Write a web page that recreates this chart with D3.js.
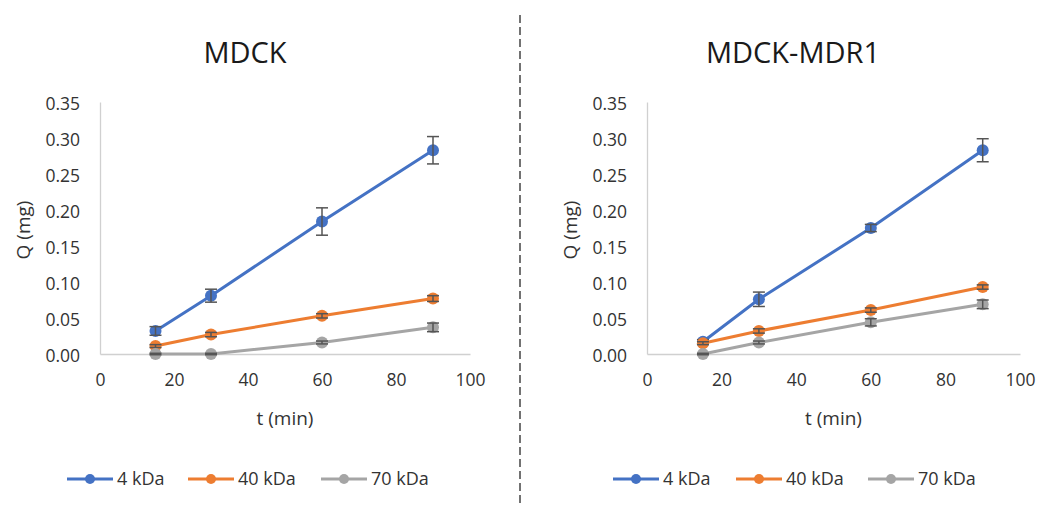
<!DOCTYPE html>
<html>
<head>
<meta charset="utf-8">
<script src="https://cdn.jsdelivr.net/npm/d3@7"></script>
<style>
  body { margin: 0; background: #fff; }
  svg text { font-family: "Open Sans", sans-serif; }
</style>
</head>
<body>
<script>
// time points (min)
const times = [15, 30, 60, 90];
const seriesNames = ['4 kDa', '40 kDa', '70 kDa'];
const seriesColors = ['#4472C4', '#ED7D31', '#A5A5A5'];

// MDCK, Q (mg) and error
const mdck4 = [0.032, 0.081, 0.184, 0.283];
const mdck4Err = [0.006, 0.009, 0.019, 0.019];
const mdck40 = [0.011, 0.027, 0.053, 0.077];
const mdck40Err = [0.002, 0.003, 0.003, 0.004];
const mdck70 = [0.000, 0.000, 0.016, 0.037];
const mdck70Err = [0.001, 0.001, 0.002, 0.006];

// MDCK-MDR1
const mdr4 = [0.017, 0.076, 0.175, 0.283];
const mdr4Err = [0.003, 0.010, 0.005, 0.016];
const mdr40 = [0.015, 0.032, 0.061, 0.093];
const mdr40Err = [0.002, 0.003, 0.003, 0.003];
const mdr70 = [0.000, 0.016, 0.044, 0.069];
const mdr70Err = [0.001, 0.002, 0.005, 0.006];

const xTicks = [0, 20, 40, 60, 80, 100];
const yTicks = [0, 0.05, 0.10, 0.15, 0.20, 0.25, 0.30, 0.35];

const W = 1037, H = 508;
const svg = d3.select('body').append('svg')
    .attr('width', W)
    .attr('height', H);

function toSeries(vals, errs) {
    return times.map((t, i) => ({ t: t, q: vals[i], e: errs[i] }));
}

const panels = [
    {
        title: 'MDCK', titleX: 245, x0: 100, x1: 470,
        legendX: [67, 188, 321],
        series: [toSeries(mdck4, mdck4Err), toSeries(mdck40, mdck40Err), toSeries(mdck70, mdck70Err)]
    },
    {
        title: 'MDCK-MDR1', titleX: 793, x0: 647, x1: 1020,
        legendX: [613, 736, 868],
        series: [toSeries(mdr4, mdr4Err), toSeries(mdr40, mdr40Err), toSeries(mdr70, mdr70Err)]
    }
];

const yTop = 102, yBottom = 354;
const textColor = '#333';

panels.forEach(p => {
    const g = svg.append('g');

    const x = d3.scaleLinear().domain([0, 100]).range([p.x0, p.x1]);
    const y = d3.scaleLinear().domain([0, 0.35]).range([yBottom, yTop]);

    //title
    g.append('text')
        .attr('x', p.titleX)
        .attr('y', 63)
        .attr('text-anchor', 'middle')
        .style('font-size', '29px')
        .style('fill', '#1a1a1a')
        .text(p.title);

    //axes
    const yAxis = g.append('g')
        .attr('transform', `translate(${p.x0},0)`)
        .call(d3.axisLeft(y).tickValues(yTicks).tickFormat(d3.format('.2f')).tickSize(0).tickPadding(20));
    const xAxis = g.append('g')
        .attr('transform', `translate(0,${yBottom})`)
        .call(d3.axisBottom(x).tickValues(xTicks).tickSize(0).tickPadding(20));

    [yAxis, xAxis].forEach(a => {
        a.select('.domain').attr('stroke', '#d0d0d0').attr('stroke-width', 1.3);
        a.selectAll('text')
            .style('font-size', '17.5px')
            .style('fill', textColor)
            .style('font-family', '"Open Sans", sans-serif');
    });
    yAxis.selectAll('text').attr('dy', '0.45em');

    //axis labels
    g.append('text')
        .attr('transform', `translate(${p.x0 - 77},230) rotate(-90)`)
        .attr('text-anchor', 'middle')
        .attr('dy', '0.35em')
        .style('font-size', '19px')
        .style('fill', textColor)
        .text('Q (mg)');
    g.append('text')
        .attr('x', (p.x0 + p.x1) / 2)
        .attr('y', 418)
        .attr('text-anchor', 'middle')
        .attr('dy', '0.35em')
        .style('font-size', '19px')
        .style('fill', textColor)
        .text('t (min)');

    const line = d3.line().x(d => x(d.t)).y(d => y(d.q));

    p.series.forEach((s, i) => {
        const sg = g.append('g');
        sg.append('path')
            .datum(s)
            .attr('d', line)
            .attr('fill', 'none')
            .attr('stroke', seriesColors[i])
            .attr('stroke-width', 3);
        sg.selectAll('circle')
            .data(s)
            .enter()
                .append('circle')
                .attr('cx', d => x(d.t))
                .attr('cy', d => y(d.q))
                .attr('r', 6)
                .attr('fill', seriesColors[i]);

        //error bars
        const eb = sg.selectAll('g.err')
            .data(s)
            .enter()
                .append('g')
                .attr('class', 'err')
                .attr('stroke', '#555')
                .attr('stroke-width', 1.5);
        eb.append('line')
            .attr('x1', d => x(d.t)).attr('x2', d => x(d.t))
            .attr('y1', d => y(d.q - d.e)).attr('y2', d => y(d.q + d.e));
        eb.append('line')
            .attr('x1', d => x(d.t) - 6).attr('x2', d => x(d.t) + 6)
            .attr('y1', d => y(d.q + d.e)).attr('y2', d => y(d.q + d.e));
        eb.append('line')
            .attr('x1', d => x(d.t) - 6).attr('x2', d => x(d.t) + 6)
            .attr('y1', d => y(d.q - d.e)).attr('y2', d => y(d.q - d.e));
    });

    //legend
    const lg = g.append('g');
    seriesNames.forEach((name, i) => {
        const lx = p.legendX[i];
        lg.append('line')
            .attr('x1', lx).attr('x2', lx + 46)
            .attr('y1', 479).attr('y2', 479)
            .attr('stroke', seriesColors[i])
            .attr('stroke-width', 3);
        lg.append('circle')
            .attr('cx', lx + 23).attr('cy', 479)
            .attr('r', 5)
            .attr('fill', seriesColors[i]);
        lg.append('text')
            .attr('x', lx + 50)
            .attr('y', 479)
            .attr('dy', '0.35em')
            .style('font-size', '18px')
            .style('fill', textColor)
            .text(name);
    });
});

//divider
svg.append('line')
    .attr('x1', 520).attr('x2', 520)
    .attr('y1', 15).attr('y2', 505)
    .attr('stroke', '#444')
    .attr('stroke-width', 1.5)
    .attr('stroke-dasharray', '8,4');
</script>
</body>
</html>
